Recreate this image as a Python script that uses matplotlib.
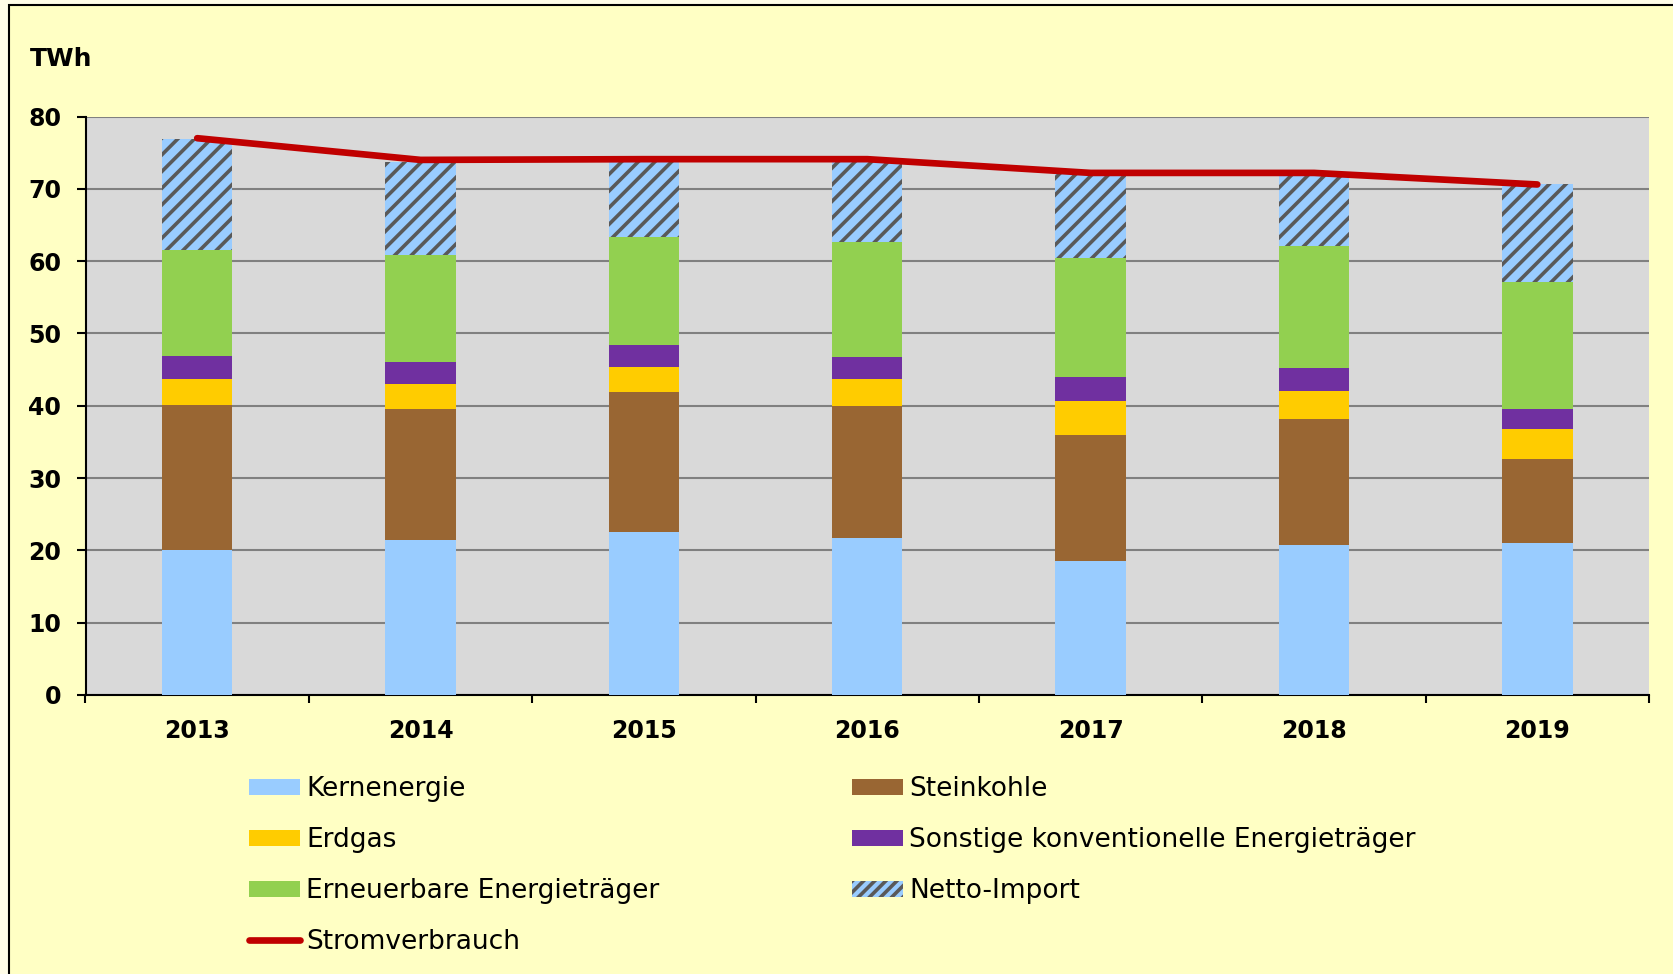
import numpy as np
import matplotlib
matplotlib.use('Agg')
import matplotlib.pyplot as plt
from matplotlib.patches import Rectangle, Patch
from matplotlib.lines import Line2D

years = ['2013', '2014', '2015', '2016', '2017', '2018', '2019']
kernenergie = [20.1, 21.5, 22.6, 21.7, 18.5, 20.7, 21.0]
steinkohle = [20.0, 18.1, 19.3, 18.2, 17.5, 17.5, 11.6]
erdgas = [3.6, 3.4, 3.4, 3.8, 4.7, 3.9, 4.2]
sonstige = [3.2, 3.0, 3.1, 3.1, 3.3, 3.1, 2.8]
erneuerbare = [14.6, 14.8, 14.9, 15.9, 16.5, 16.9, 17.5]
netto_import = [15.4, 12.9, 10.5, 11.1, 11.5, 9.9, 13.5]
stromverbrauch = [77.0, 74.0, 74.1, 74.1, 72.2, 72.2, 70.6]

plt.rcParams['font.family'] = ['DejaVu Sans']
plt.rcParams['hatch.linewidth'] = 2.6

fig = plt.figure(figsize=(16.74, 9.74), dpi=100)
fig.patch.set_facecolor('#FFFDE8')
# yellow chart area with black frame
fig.patches.append(Rectangle((9 / 1674, -0.01), 1.0, 1.01 - 5 / 974, transform=fig.transFigure,
                             facecolor='#FFFFC4', edgecolor='black', linewidth=1.5, zorder=-5))

ax = fig.add_axes([85.5 / 1674, 1 - 695 / 974, (1649 - 85.5) / 1674, (695 - 116.5) / 974])
ax.set_facecolor('#D9D9D9')

x = np.arange(len(years))
w = 0.315
series = [
    (kernenergie, '#99CCFF'),
    (steinkohle, '#996633'),
    (erdgas, '#FFCC00'),
    (sonstige, '#7030A0'),
    (erneuerbare, '#92D050'),
]
bottom = np.zeros(len(years))
for vals, col in series:
    ax.bar(x, vals, w, bottom=bottom, color=col, linewidth=0, zorder=3)
    bottom += np.array(vals)
ax.bar(x, netto_import, w, bottom=bottom, facecolor='#99CCFF', edgecolor='#595959',
       hatch='//', linewidth=0, zorder=3)

ax.plot(x, stromverbrauch, color='#C00000', linewidth=4.8, solid_capstyle='round', zorder=4)

ax.set_xlim(-0.5, 6.5)
ax.set_ylim(0, 80)
ax.set_yticks(range(0, 81, 10))
ax.yaxis.grid(True, color='#808080', linewidth=1.5, zorder=1)
ax.set_axisbelow(True)
for s in ['top', 'right']:
    ax.spines[s].set_visible(False)
for s in ['left', 'bottom']:
    ax.spines[s].set_linewidth(1.5)

ax.set_xticks(np.arange(-0.5, 7, 1))
ax.set_xticklabels([])
ax.set_xticks(x, minor=True)
ax.set_xticklabels(years, minor=True, fontsize=17, fontweight='bold')
ax.tick_params(axis='x', which='major', direction='out', length=6, width=1.5)
ax.tick_params(axis='x', which='minor', length=0, pad=17)
ax.tick_params(axis='y', direction='out', length=6.5, width=1.5, pad=11, labelsize=17)
for t in ax.get_yticklabels():
    t.set_fontweight('bold')

fig.text(30 / 1674, 1 - 66 / 974, 'TWh', fontsize=18, fontweight='bold', va='baseline')

h1 = [Patch(facecolor='#99CCFF'), Patch(facecolor='#FFCC00'), Patch(facecolor='#92D050'),
      Line2D([0], [0], color='#C00000', linewidth=4.8, solid_capstyle='round')]
l1 = ['Kernenergie', 'Erdgas', 'Erneuerbare Energieträger', 'Stromverbrauch']
h2 = [Patch(facecolor='#996633'), Patch(facecolor='#7030A0'),
      Patch(facecolor='#99CCFF', edgecolor='#595959', hatch='///', linewidth=0)]
l2 = ['Steinkohle', 'Sonstige konventionelle Energieträger', 'Netto-Import']
opts = dict(loc='upper left', frameon=False, fontsize=19, borderpad=0, borderaxespad=0,
            handlelength=1.94, handletextpad=0.22, handleheight=0.57, labelspacing=0.95)
fig.legend(h1, l1, bbox_to_anchor=(249 / 1674, 1 - 776 / 974), **opts)
fig.legend(h2, l2, bbox_to_anchor=(852 / 1674, 1 - 776 / 974), **opts)

plt.savefig('out.png', dpi=100, facecolor=fig.get_facecolor())
